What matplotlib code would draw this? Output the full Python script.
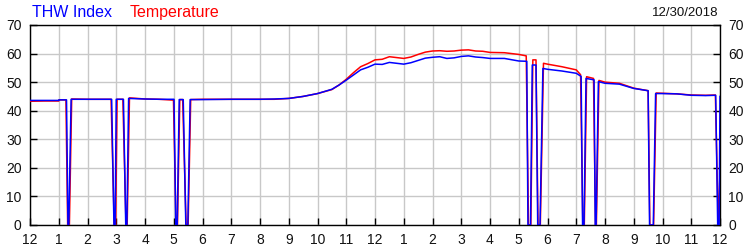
import matplotlib
matplotlib.use("Agg")
import matplotlib.pyplot as plt

plt.rcParams["font.family"] = ["Liberation Sans", "DejaVu Sans"]

# hours since midnight, THW index values
thw_hours = [0, 0.5, 1.0, 1.01, 1.27, 1.32, 1.35, 1.43, 2.0, 2.84, 2.92, 2.96, 3.0,
             3.25, 3.33, 3.37, 3.43, 4.0, 4.5, 5.01, 5.07, 5.12, 5.19, 5.33, 5.42,
             5.49, 5.57, 6.0, 7.0, 8.0, 8.5, 9.0, 9.5, 10.0, 10.5, 10.75, 11.0,
             11.25, 11.5, 11.75, 12.0, 12.25, 12.5, 12.75, 13.0, 13.25, 13.5, 13.75,
             14.0, 14.25, 14.5, 14.75, 15.0, 15.25, 15.5, 15.75, 16.0, 16.5, 17.0,
             17.28, 17.32, 17.41, 17.47, 17.6, 17.66, 17.74, 17.84, 18.0, 18.5,
             19.0, 19.17, 19.22, 19.27, 19.34, 19.62, 19.66, 19.69, 19.77, 20.0,
             20.5, 21.0, 21.5, 21.55, 21.62, 21.68, 21.76, 22.0, 22.5, 23.0, 23.5,
             23.85, 23.92, 23.97, 24.0]
thw_vals = [43.6, 43.6, 43.6, 43.8, 43.8, 0, 0, 44.0, 44.0, 44.0, 0, 0, 44.0,
            44.0, 0, 0, 44.3, 44.1, 44.0, 44.0, 0, 0, 43.9, 43.9, 0,
            0, 43.9, 43.9, 44.0, 44.0, 44.1, 44.3, 45.0, 46.0, 47.5, 49.0, 50.7,
            52.5, 54.3, 55.2, 56.3, 56.2, 56.9, 56.6, 56.3, 56.8, 57.6, 58.4,
            58.7, 58.9, 58.3, 58.5, 59.0, 59.2, 58.8, 58.6, 58.3, 58.3, 57.4,
            57.3, 0, 0, 56.0, 56.0, 0, 0, 54.8, 54.5, 53.9,
            53.1, 52.0, 0, 0, 51.3, 50.8, 0, 0, 50.2, 49.6,
            49.3, 47.8, 47.0, 0, 0, 0, 46.0, 46.0, 45.9, 45.4, 45.3,
            45.4, 0, 0, 45.0]

# hours since midnight, outdoor temperature values
temp_hours = [0, 0.5, 1.0, 1.01, 1.25, 1.31, 1.37, 1.45, 2.0, 2.82, 2.93, 2.98, 3.03,
              3.23, 3.34, 3.38, 3.46, 4.0, 4.5, 4.99, 5.08, 5.13, 5.21, 5.31, 5.43,
              5.5, 5.59, 6.0, 7.0, 8.0, 8.5, 9.0, 9.5, 10.0, 10.5, 10.75, 11.0,
              11.25, 11.5, 11.75, 12.0, 12.25, 12.5, 12.75, 13.0, 13.25, 13.5, 13.75,
              14.0, 14.25, 14.5, 14.75, 15.0, 15.25, 15.5, 15.75, 16.0, 16.5, 17.0,
              17.26, 17.34, 17.42, 17.49, 17.6, 17.67, 17.75, 17.86, 18.0, 18.5,
              19.0, 19.15, 19.23, 19.28, 19.36, 19.6, 19.67, 19.7, 19.79, 20.0,
              20.5, 21.0, 21.5, 21.56, 21.63, 21.69, 21.78, 22.0, 22.5, 23.0, 23.5,
              23.84, 23.94, 24.0]
temp_vals = [43.3, 43.4, 43.4, 43.8, 43.8, 0, 0, 44.1, 44.0, 44.0, 0, 0, 44.0,
             44.0, 0, 0, 44.5, 44.1, 44.0, 43.7, 0, 0, 43.9, 43.9, 0,
             0, 43.9, 44.0, 44.0, 44.0, 44.0, 44.3, 45.0, 46.0, 47.4, 49.0, 51.0,
             53.3, 55.4, 56.5, 57.8, 58.0, 58.9, 58.6, 58.3, 58.8, 59.7, 60.5,
             60.9, 61.0, 60.8, 60.9, 61.2, 61.3, 60.9, 60.8, 60.4, 60.3, 59.7,
             59.2, 0, 0, 57.8, 57.8, 0, 0, 56.6, 56.3, 55.4,
             54.3, 52.6, 0, 0, 51.9, 51.3, 0, 0, 50.6, 50.0,
             49.6, 47.9, 47.0, 0, 0, 0, 46.2, 46.1, 45.9, 45.5, 45.4,
             45.5, 0, 18.0]

hour_labels = ["12"] + [str(h) for h in range(1, 12)] + ["12"] + [str(h) for h in range(1, 12)] + ["12"]
date_text = "12/30/2018"


def main():
    fig = plt.figure(figsize=(7.5, 2.5), dpi=100)
    ax = fig.add_axes([0.04, 0.1, 0.92, 0.8])

    ax.plot(temp_hours, temp_vals, color="#ff0000", linewidth=1.1, zorder=4)
    ax.plot(thw_hours, thw_vals, color="#0000ff", linewidth=1.1, zorder=5)

    ax.set_xlim(0, 24)
    ax.set_ylim(0, 70)
    ax.set_xticks(range(25))
    ax.set_xticklabels(hour_labels)
    ax.set_yticks(range(0, 71, 10))
    ax.grid(True, color="#c8c8c8", linewidth=1.0)
    ax.set_axisbelow(True)
    ax.tick_params(axis="both", direction="in", length=5, width=1, labelsize=10,
                   color="black", labelcolor="#111111")
    ax.tick_params(axis="x", pad=6)
    ax.tick_params(axis="y", left=True, right=True, labelleft=True, labelright=True, pad=6)
    for sp in ax.spines.values():
        sp.set_linewidth(1.0)

    fig.text(0.043, 0.95, "THW Index", color="#0000ff", fontsize=11.5, va="center")
    fig.text(0.173, 0.95, "Temperature", color="#ff0000", fontsize=11.5, va="center")
    fig.text(0.958, 0.95, date_text, color="#111111", fontsize=9.5, va="center", ha="right")

    fig.savefig("out.png", dpi=100)
    plt.close(fig)


if __name__ == "__main__":
    main()
